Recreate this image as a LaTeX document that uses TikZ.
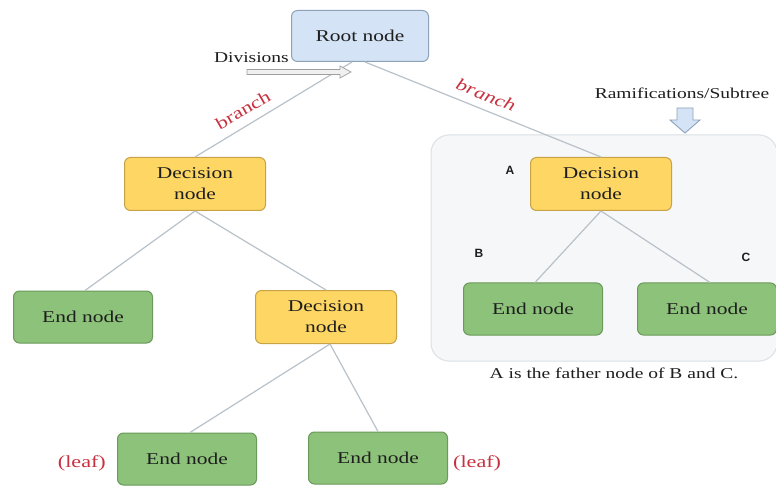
\documentclass[tikz,border=0pt]{standalone}
\usepackage{fontspec}
\setmainfont[FakeStretch=1.3]{Liberation Serif}
\newfontfamily\labelsans{Liberation Sans}
\definecolor{rootfill}{HTML}{D4E3F5}
\definecolor{rootdraw}{HTML}{8EA3BA}
\definecolor{decfill}{HTML}{FDD663}
\definecolor{decdraw}{HTML}{C8A246}
\definecolor{endfill}{HTML}{8DC27A}
\definecolor{enddraw}{HTML}{6A995A}
\definecolor{linkcol}{HTML}{B9C1C9}
\definecolor{boxfill}{HTML}{F6F7F8}
\definecolor{boxdraw}{HTML}{DCE1E5}
\definecolor{redtxt}{HTML}{C8303E}
\definecolor{txt}{HTML}{1E1E1E}
\tikzset{
  treenode/.style={rounded corners=6pt, line width=1pt, align=center, text=txt,
    font=\fontsize{16.5}{21}\selectfont, inner sep=0pt},
  rootbox/.style={treenode, fill=rootfill, draw=rootdraw, minimum width=137pt, minimum height=51pt},
  decbox/.style={treenode, fill=decfill, draw=decdraw, minimum width=141pt, minimum height=53pt},
  endbox/.style={treenode, fill=endfill, draw=enddraw, minimum width=139pt, minimum height=52pt},
  link/.style={draw=linkcol, line width=1.2pt},
  note/.style={text=txt, font=\fontsize{15}{18}\selectfont, inner sep=0pt},
  redlab/.style={text=redtxt, font=\fontsize{17}{20}\selectfont, inner sep=0pt},
  letter/.style={text=txt, font=\labelsans\bfseries\fontsize{12}{14}\selectfont, inner sep=0pt},
  hollowgray/.style={draw=gray!75, fill=gray!12, line width=0.7pt, line join=miter},
  hollowblue/.style={draw=rootdraw, fill=rootfill, line width=0.9pt, line join=miter}
}
\begin{document}
\begin{tikzpicture}[x=1pt,y=-1pt]
\useasboundingbox (0,0) rectangle (776,486);
\fill[white] (0,0) rectangle (776,486);
% subtree background
\node[draw=boxdraw, fill=boxfill, rounded corners=18pt, line width=1pt,
  minimum width=346pt, minimum height=226pt, inner sep=0pt] (sub) at (604,248) {};
% nodes
\node[rootbox] (root) at (360,36) {Root node};
\node[decbox] (dl) at (195,184) {Decision\\node};
\node[endbox] (e1) at (83,317) {End node};
\node[decbox] (dm) at (326,317) {Decision\\node};
\node[endbox] (e2) at (187,459) {End node};
\node[endbox] (e3) at (378,458) {End node};
\node[decbox] (dr) at (601,184) {Decision\\node};
\node[endbox] (eb) at (533,309) {End node};
\node[endbox] (ec) at (707,309) {End node};
% connectors
\draw[link] ([xshift=-8pt]root.south) -- (dl.north);
\draw[link] ([xshift=5pt]root.south) -- (dr.north);
\draw[link] (dl.south) -- ([xshift=2pt]e1.north);
\draw[link] (dl.south) -- (dm.north);
\draw[link] ([xshift=4pt]dm.south) -- ([xshift=3pt]e2.north);
\draw[link] ([xshift=4pt]dm.south) -- (e3.north);
\draw[link] (dr.south) -- ([xshift=2pt]eb.north);
\draw[link] (dr.south) -- ([xshift=3pt]ec.north);
% labels
\node[note, anchor=east] (div) at (289,58) {Divisions};
% hollow "Divisions" arrow
\draw[hollowgray] (247,69.5) -- (340,69.5) -- (340,66) -- (351,72) -- (340,78)
  -- (340,74.5) -- (247,74.5) -- cycle;
\node[redlab, rotate=30] (br1) at (243,110) {branch};
\node[redlab, rotate=-22, font=\itshape\fontsize{17}{20}\selectfont] (br2) at (486,95) {branch};
\node[note] (ram) at (682,93) {Ramifications/Subtree};
% hollow down arrow
\draw[hollowblue] (677,108) -- (693,108) -- (693,120) -- (700,120) -- (685,133)
  -- (670,120) -- (677,120) -- cycle;
\node[note] (father) at (614,373) {A is the father node of B and C.};
\node[letter] (la) at (510,170) {A};
\node[letter] (lb) at (479,253) {B};
\node[letter] (lc) at (746,257) {C};
\node[redlab, anchor=east] (leaf1) at (106,463) {(leaf)};
\node[redlab, anchor=west] (leaf2) at (453,463) {(leaf)};
\end{tikzpicture}
\end{document}
